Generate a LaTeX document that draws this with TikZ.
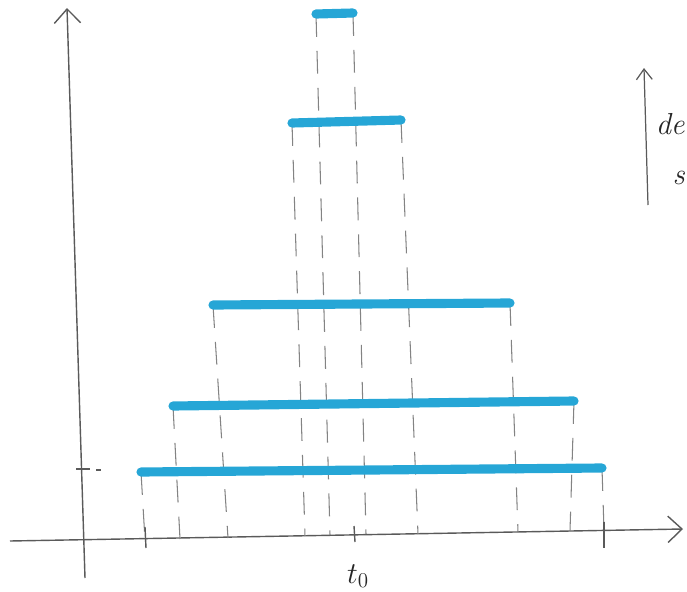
\documentclass[tikz,border=0pt]{standalone}
\usetikzlibrary{arrows.meta}
\definecolor{marker}{RGB}{38,166,214}
\definecolor{pencil}{RGB}{90,90,90}

\begin{document}
\begin{tikzpicture}[x=0.02cm, y=-0.02cm]

 \tikzset{
   axis/.style={draw=pencil, line width=0.8pt, -{Straight Barb[length=8pt, width=15pt]}},
   hint/.style={draw=pencil, line width=0.7pt, -{Straight Barb[length=6pt, width=9pt]}},
   bar/.style={draw=marker, line width=5.2pt, line cap=round},
   guide/.style={draw=pencil!75, line width=0.6pt, dash pattern=on 13pt off 8pt},
   tick/.style={draw=pencil, line width=0.8pt},
   lbl/.style={font=\LARGE, text=black!85, inner sep=0pt}
 }

 \useasboundingbox (0,0) rectangle (687,592);

 % Axes
 \coordinate (xfrom) at (10,541);
 \coordinate (xto) at (683,529);
 \coordinate (yfrom) at (85,578);
 \coordinate (yto) at (67,8);
 \draw[axis] (xfrom) -- (xto);
 \draw[axis] (yfrom) -- (yto);

 % Bar end points (top to bottom)
 \coordinate (a1) at (316,14);  \coordinate (a2) at (353,13);
 \coordinate (b1) at (292,123); \coordinate (b2) at (401,120);
 \coordinate (c1) at (213,305); \coordinate (c2) at (510,303);
 \coordinate (d1) at (173,406); \coordinate (d2) at (574,401);
 \coordinate (e1) at (141,472); \coordinate (e2) at (602,468);

 % Feet on the time axis
 \coordinate (fa1) at (330,535); \coordinate (fa2) at (366,534);
 \coordinate (fb1) at (305,536); \coordinate (fb2) at (418,534);
 \coordinate (fc1) at (228,538); \coordinate (fc2) at (518,532);
 \coordinate (fd1) at (180,539); \coordinate (fd2) at (570,531);
 \coordinate (fe1) at (145,540); \coordinate (fe2) at (604,530);

 % Dashed guides
 \draw[guide] (a1) -- (fa1);
 \draw[guide] (a2) -- (fa2);
 \draw[guide] (b1) -- (fb1);
 \draw[guide] (b2) -- (fb2);
 \draw[guide] (c1) -- (fc1);
 \draw[guide] (c2) -- (fc2);
 \draw[guide] (d1) -- (fd1);
 \draw[guide] (d2) -- (fd2);
 \draw[guide] (e1) -- (fe1);
 \draw[guide] (e2) -- (fe2);

 % Bars
 \draw[bar] (a1) -- (a2);
 \draw[bar] (b1) -- (b2);
 \draw[bar] (c1) -- (c2);
 \draw[bar] (d1) -- (d2);
 \draw[bar] (e1) -- (e2);

 % Ticks
 \draw[tick] (145,527) -- (146,548);
 \draw[tick] (604,522) -- (604,548);
 \draw[tick] (354,526) -- (355,542);
 \draw[tick] (76,469) -- (90,469);
 \draw[tick] (96,470) -- (101,470);

 % Labels
 \node[lbl] (tzero) at (358,576) {$t_0$};

 % Side hint
 \coordinate (hfrom) at (648,205);
 \coordinate (hto) at (644,68);
 \draw[hint] (hfrom) -- (hto);
 \node[lbl, anchor=east, font=\LARGE\itshape] (hinta) at (685,124) {de};
 \node[lbl, anchor=east, font=\LARGE\itshape] (hintb) at (685,178) {s};

\end{tikzpicture}
\end{document}
